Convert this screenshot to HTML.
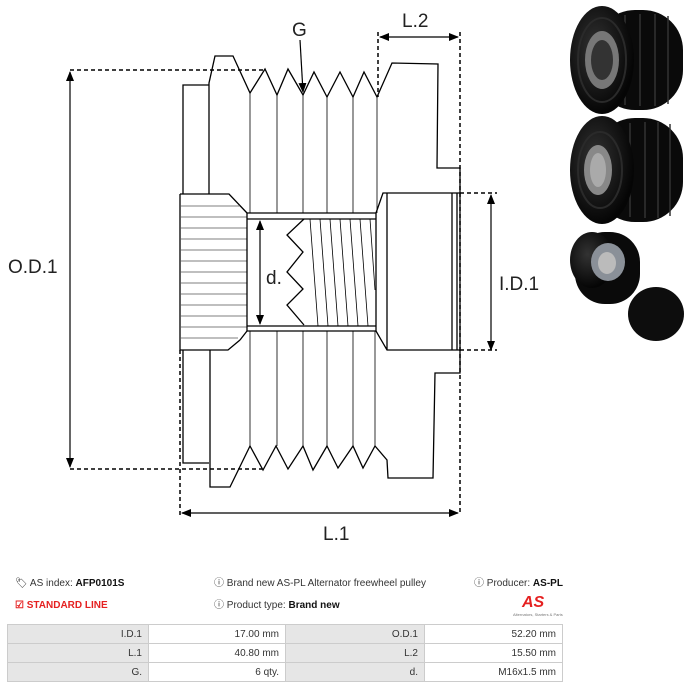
<!DOCTYPE html>
<html><head><meta charset="utf-8"><style>
html,body{margin:0;padding:0;background:#fff;}
body{width:689px;height:692px;position:relative;overflow:hidden;font-family:"Liberation Sans",sans-serif;}
.t{position:absolute;font-size:10px;line-height:12px;height:12px;color:#333;white-space:nowrap;}
table{position:absolute;left:7px;top:624px;border-collapse:collapse;font-size:10px;color:#333;}
td{border:1px solid #ccc;height:19px;padding:0 6px;text-align:right;box-sizing:border-box;}
td.g{background:#e6e6e6;}
</style></head><body>
<svg width="689" height="570" style="position:absolute;left:0;top:0" xmlns="http://www.w3.org/2000/svg">
<defs>
<marker id="a" markerWidth="10" markerHeight="10" refX="9" refY="5" orient="auto" markerUnits="userSpaceOnUse"><path d="M0,1 L10,5 L0,9 z" fill="#000"/></marker>
<radialGradient id="rg" cx="0.4" cy="0.4" r="0.6"><stop offset="0" stop-color="#333"/><stop offset="1" stop-color="#050505"/></radialGradient>
</defs>
<g fill="none" stroke="#000" stroke-width="1.3">
<path d="M209,85 L183,85 L183,194 M183,350 L183,463 L209,463"/>
<path d="M209,194 L209,83 L215,56 L233,56 L250,93 L265,69 L277,95 L288,69 L303,95 L314,72 L327,97 L340,72 L353,97 L364,72 L377,97 L392,63 L438,64 L437,168 L460,168 L460,193"/>
<path d="M210,350 L210,487 L230,487 L250,446 L263,470 L276,446 L288,469 L303,446 L313,470 L327,446 L338,468 L353,446 L363,468 L375,446 L387,460 L388,478 L433,478 L435,373 L460,373 L460,350"/>
<path d="M250,93 V213 M277,95 V213 M303,95 V213 M327,97 V213 M353,97 V213 M377,97 V213" stroke-width="0.8"/>
<path d="M250,331 V446 M277,331 V446 M303,331 V446 M327,331 V446 M353,331 V446 M375,331 V446" stroke-width="0.8"/>
<path d="M180,194 L229,194 L247,213 M180,194 L180,350 L228,350 L240,340 M247,331 L240,340"/>
<path d="M180,206 H240 M180,217 H247 M180,228 H247 M180,239 H247 M180,250 H247 M180,261 H247 M180,272 H247 M180,283 H247 M180,294 H247 M180,305 H247 M180,316 H247 M180,327 H247 M180,338 H238" stroke-width="0.8" stroke="#555"/>
<path d="M247,213 H376 M247,219 H376 M247,326 H376 M247,331 H376 M247,213 V331 M376,213 V331"/>
<path d="M376,213 L383,193 L460,193 L460,350 L387,350 L376,331 M383,193 L387,193 L387,350 M452,193 V350 M457,193 V350"/>
<path d="M304,219 L287,235 L303,252 L287,272 L303,289 L287,305 L304,325"/>
<path d="M310,219 L318,326 M320,219 L328,326 M330,219 L338,326 M340,219 L348,326 M350,219 L358,326 M360,219 L368,326 M370,219 L375,290" stroke-width="0.8"/>
</g>
<g stroke="#000" stroke-width="1.5" fill="none" stroke-dasharray="4,3">
<path d="M70,70 H265 M70,469 H262 M378,32 V97 M460,32 V515 M180,350 V517 M460,193 H497 M460,350 H497"/>
</g>
<g stroke="#000" stroke-width="1.2" fill="none">
<path d="M70,270 V72" marker-end="url(#a)"/>
<path d="M70,270 V467" marker-end="url(#a)"/>
<path d="M420,37 H380" marker-end="url(#a)"/>
<path d="M420,37 H458" marker-end="url(#a)"/>
<path d="M320,513 H182" marker-end="url(#a)"/>
<path d="M320,513 H458" marker-end="url(#a)"/>
<path d="M491,272 V195" marker-end="url(#a)"/>
<path d="M491,272 V350" marker-end="url(#a)"/>
<path d="M260,272 V221" marker-end="url(#a)"/>
<path d="M260,272 V324" marker-end="url(#a)"/>
<path d="M300,40 L303,92" marker-end="url(#a)"/>
</g>
<g font-family="Liberation Sans,sans-serif" font-size="19" fill="#222">
<text x="8" y="273">O.D.1</text>
<text x="292" y="36">G</text>
<text x="402" y="27">L.2</text>
<text x="323" y="540">L.1</text>
<text x="499" y="290">I.D.1</text>
<text x="266" y="284">d.</text>
</g>
<g>
<rect x="595" y="10" width="88" height="100" rx="40" fill="#0a0a0a"/>
<path d="M625,15 V105 M640,14 V106 M655,14 V106 M668,16 V104" stroke="#333" stroke-width="1.5"/>
<ellipse cx="602" cy="60" rx="32" ry="54" fill="url(#rg)"/>
<ellipse cx="602" cy="60" rx="24" ry="42" fill="none" stroke="#2a2a2a" stroke-width="2"/>
<ellipse cx="602" cy="60" rx="17" ry="29" fill="#777"/>
<ellipse cx="602" cy="60" rx="11" ry="20" fill="#333"/>
<rect x="595" y="118" width="88" height="104" rx="40" fill="#0a0a0a"/>
<path d="M630,123 V217 M645,122 V218 M658,122 V218 M670,124 V216" stroke="#333" stroke-width="1.5"/>
<ellipse cx="602" cy="170" rx="32" ry="54" fill="url(#rg)"/>
<ellipse cx="600" cy="170" rx="22" ry="38" fill="none" stroke="#2a2a2a" stroke-width="2"/>
<ellipse cx="598" cy="170" rx="14" ry="25" fill="#888"/>
<ellipse cx="598" cy="170" rx="8" ry="17" fill="#aaa"/>
<rect x="575" y="232" width="65" height="72" rx="30" fill="#0a0a0a"/>
<ellipse cx="592" cy="260" rx="22" ry="28" fill="url(#rg)"/>
<ellipse cx="608" cy="262" rx="17" ry="19" fill="#8a9098"/>
<ellipse cx="607" cy="263" rx="9" ry="11" fill="#bbb"/>
<ellipse cx="656" cy="314" rx="28" ry="27" fill="#0d0d0d"/>
</g>
</svg>
<div class="t" style="left:15px;top:578px;">&#x1F3F7;&#xFE0E; AS index: <b style="color:#111">AFP0101S</b></div>
<div class="t" style="left:15px;top:600px;color:#e52020;font-weight:bold;">&#9745; STANDARD LINE</div>
<div class="t" style="left:214px;top:578px;">&#x24D8; Brand new AS-PL Alternator freewheel pulley</div>
<div class="t" style="left:214px;top:600px;">&#x24D8; Product type: <b style="color:#111">Brand new</b></div>
<div class="t" style="left:474px;top:578px;">&#x24D8; Producer: <b style="color:#111">AS-PL</b></div>
<div class="t" style="left:522px;top:594px;height:18px;line-height:18px;color:#e52020;font-weight:bold;font-style:italic;font-size:16px;">AS</div>
<div class="t" style="left:513px;top:612px;font-size:4px;line-height:5px;color:#777;">Alternators, Starters &amp; Parts</div>
<table>
<tr><td class="g" style="width:141px">I.D.1</td><td style="width:137px">17.00 mm</td><td class="g" style="width:139px">O.D.1</td><td style="width:138px">52.20 mm</td></tr>
<tr><td class="g">L.1</td><td>40.80 mm</td><td class="g">L.2</td><td>15.50 mm</td></tr>
<tr><td class="g">G.</td><td>6 qty.</td><td class="g">d.</td><td>M16x1.5 mm</td></tr>
</table>
</body></html>
